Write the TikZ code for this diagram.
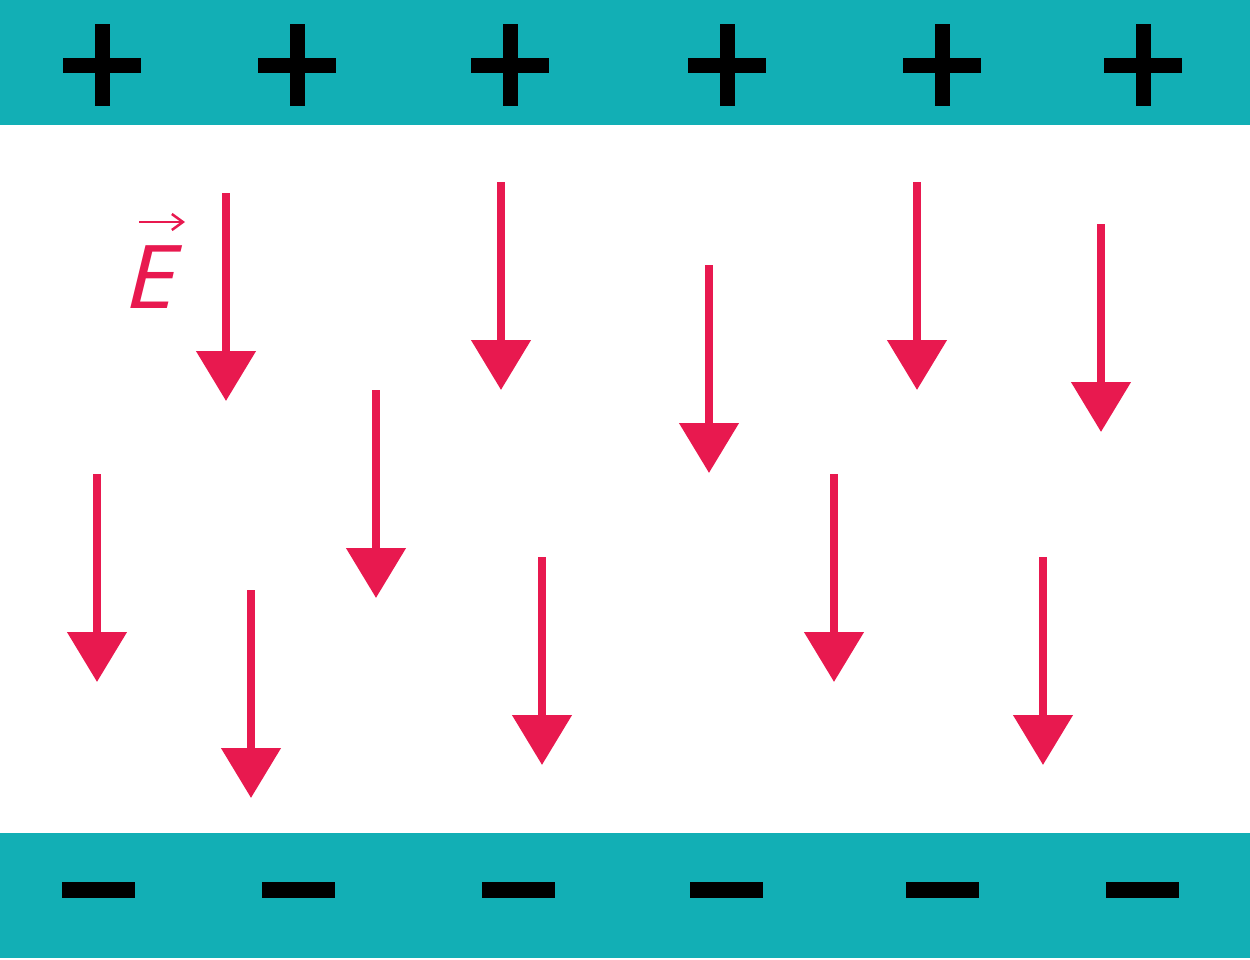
\documentclass[tikz,border=0pt]{standalone}
\usepackage{fontspec}
\newfontfamily\labelfont{Open Sans}
\usetikzlibrary{arrows.meta}
\definecolor{plate}{HTML}{12AFB5}
\definecolor{field}{HTML}{E8194F}

\begin{document}
\begin{tikzpicture}[x=1pt, y=-1pt,
    fieldline/.style={draw=field, line width=8pt, -{Triangle[width=58pt, length=50pt]}},
    charge/.style={line width=15pt, black}]
  \useasboundingbox [fill=white] (0,0) rectangle (1250,959);
  % plates
  \fill [plate] (0,0) rectangle (1250,125);
  \fill [plate] (0,833) rectangle (1250,958);
  % plus signs
  \draw [charge] (63,65) -- (141,65) (102,24) -- (102,106);
  \draw [charge] (258,65) -- (336,65) (297,24) -- (297,106);
  \draw [charge] (471,65) -- (549,65) (510,24) -- (510,106);
  \draw [charge] (688,65) -- (766,65) (727,24) -- (727,106);
  \draw [charge] (903,65) -- (981,65) (942,24) -- (942,106);
  \draw [charge] (1104,65) -- (1182,65) (1143,24) -- (1143,106);
  % minus signs
  \draw [charge, line width=16pt] (62,890) -- (135,890);
  \draw [charge, line width=16pt] (262,890) -- (335,890);
  \draw [charge, line width=16pt] (482,890) -- (555,890);
  \draw [charge, line width=16pt] (690,890) -- (763,890);
  \draw [charge, line width=16pt] (906,890) -- (979,890);
  \draw [charge, line width=16pt] (1106,890) -- (1179,890);
  % field
  \draw [fieldline] (226,193) -- (226,401);
  \draw [fieldline] (501,182) -- (501,390);
  \draw [fieldline] (709,265) -- (709,473);
  \draw [fieldline] (917,182) -- (917,390);
  \draw [fieldline] (1101,224) -- (1101,432);
  \draw [fieldline] (97,474) -- (97,682);
  \draw [fieldline] (251,590) -- (251,798);
  \draw [fieldline] (376,390) -- (376,598);
  \draw [fieldline] (542,557) -- (542,765);
  \draw [fieldline] (834,474) -- (834,682);
  \draw [fieldline] (1043,557) -- (1043,765);
  % label
  \node (efield) at (126.5,308) [anchor=base west, inner sep=0pt, xscale=1.15, text=field,
    font=\labelfont\itshape\fontsize{88}{90}\selectfont] {E};
  \draw [field, line width=2.5pt, -{Straight Barb[length=11pt, width=16pt]}] (139,222) -- (185,222);
\end{tikzpicture}
\end{document}
